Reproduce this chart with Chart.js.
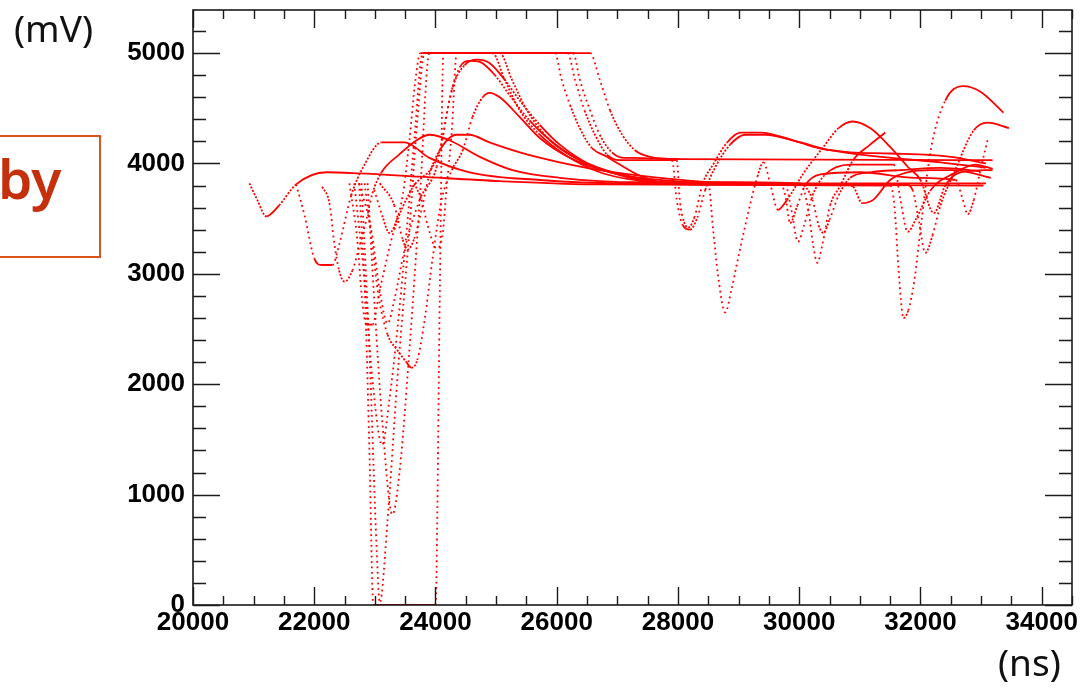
<!DOCTYPE html>
<html>
<head>
<meta charset="utf-8">
<script src="https://cdn.jsdelivr.net/npm/chart.js@4.4.1/dist/chart.umd.min.js"></script>
<style>
html, body { margin: 0; padding: 0; background: #fff; }
#wrap { position: relative; width: 1082px; height: 695px; overflow: hidden; }
canvas { position: absolute; left: 0; top: 0; }
.unit { position: absolute; font-family: "Noto Sans", sans-serif; font-size: 37px; line-height: 1; color: #111; }
#box { position: absolute; left: -10px; top: 135px; width: 107px; height: 119px; border: 2px solid #d9541e; }
#by { position: absolute; left: -2px; top: 150px; font: 600 55px/1 "Noto Sans", sans-serif; color: #c52f0c; }
</style>
</head>
<body>
<div id="wrap">
  <canvas id="c" width="1082" height="695"></canvas>
  <div class="unit" style="left:14px; top:9px;">(mV)</div>
  <div class="unit" style="left:998px; top:643px;">(ns)</div>
  <div id="box"></div>
  <div id="by">by</div>
</div>
<script>
// axis ticks
var xTicks = [20000, 22000, 24000, 26000, 28000, 30000, 32000, 34000];
var yTicks = [0, 1000, 2000, 3000, 4000, 5000];

// waveforms: [time ns, amplitude mV]
var trace1 = [[20930,3820],[21060,3670],[21210,3520],[21420,3620],[21700,3810],[22200,3920],[22740,3910],[23740,3880],[25060,3840],[26710,3810],[31500,3800],[31570,3620],[31640,3030],[31720,2600],[31800,2670],[31900,2940],[32000,3400],[32170,4120],[32410,4570],[32700,4700],[32990,4650],[33370,4460]];
var trace2 = [[21700,3810],[21840,3530],[22000,3140],[22120,3080],[22300,3080],[22410,3260],[22610,3710],[22830,3990],[23110,4190],[23490,4190],[23900,4050],[24560,3920],[25720,3850],[27040,3820],[28500,3820],[28580,3400],[28660,2990],[28780,2650],[28880,2850],[28980,3110],[29140,3510],[29310,3880],[29410,4010],[29520,3820],[29650,3580],[29800,3670],[30070,3910],[30400,4150],[30650,4320],[30880,4380],[31170,4320],[31500,4150],[31790,3970],[32000,3850],[32220,3550],[32410,3800],[32660,3920],[33190,3940]];
var trace3 = [[22130,3790],[22250,3640],[22330,3280],[22410,3030],[22500,2930],[22630,3030],[22740,3240],[22860,3490],[22960,3730],[23110,3920],[23400,4080],[23690,4210],[23900,4260],[24230,4210],[24730,4060],[25270,3940],[26050,3870],[27370,3830],[29690,3820],[29770,3710],[29850,3460],[29970,3620],[30100,3800],[30350,3900],[31010,3920],[31920,3870],[32580,3850],[32700,3670],[32780,3540],[32880,3670],[32990,3940],[33110,4220]];
var trace4 = [[23080,3820],[23320,3620],[23460,3310],[23540,3220],[23650,3320],[23770,3580],[23900,3900],[24070,4120],[24350,4260],[24560,4260],[24890,4190],[25390,4100],[26050,4010],[26710,3940],[27700,3870],[28700,3830],[30020,3820],[30150,3580],[30230,3260],[30300,3100],[30380,3260],[30510,3620],[30680,3800],[30890,4030],[31170,4170],[31420,4280]];
var trace5 = [[22740,3820],[22940,3400],[23080,2850],[23210,2550],[23320,2760],[23490,3220],[23740,3670],[24020,3970],[24230,4570],[24400,4870],[24560,4930],[24730,4920],[24980,4800],[25220,4620],[25550,4390],[25890,4210],[26380,4030],[27040,3900],[27700,3830],[28360,3810],[31750,3810],[31870,3760],[31970,3490],[32080,3190],[32200,3350],[32330,3620],[32550,3910],[32880,4300],[33110,4370],[33460,4320]];
var trace6 = [[22580,3820],[22710,3310],[22790,2760],[22860,2540],[22960,2540],[23080,2850],[23320,3400],[23600,3760],[24070,4120],[24270,4670],[24480,4890],[24680,4940],[24890,4910],[25140,4760],[25390,4570],[25720,4350],[26050,4170],[26550,3990],[27210,3870],[28030,3810],[30020,3810],[30220,3670],[30320,3440],[30400,3370],[30500,3490],[30650,3710],[30840,3870],[31170,3920],[31670,3940],[32330,3960],[32990,3930]];
var trace7 = [[22830,3820],[22950,3300],[23060,2800],[23210,2450],[23370,2310],[23520,2200],[23600,2150],[23700,2220],[23820,2580],[23950,3130],[24100,3670],[24270,3940],[24450,4120],[24610,4420],[24780,4600],[24890,4640],[25060,4600],[25390,4420],[25720,4230],[26220,4050],[26880,3920],[27700,3850],[28700,3820],[30760,3810],[30890,3790],[31040,3640],[31220,3670],[31500,3850],[31790,3920],[32170,3940],[32550,3940],[33160,3870]];
var trace8 = [[22740,3820],[22840,2760],[22910,1400],[22975,0],[24000,0],[24070,2760],[24130,5000],[26550,5000],[26710,4760],[26880,4480],[27080,4260],[27290,4120],[27540,4060],[28030,4040],[33190,4030]];
var trace9 = [[22660,3820],[22830,2940],[22960,2040],[23120,1450],[23240,1860],[23370,2490],[23540,3490],[23650,4210],[23790,5000],[26180,5000],[26300,4760],[26460,4480],[26630,4260],[26830,4080],[27040,4030],[27980,4030],[28030,3670],[28100,3470],[28170,3420],[28270,3510],[28410,3820],[28580,3990],[28810,4190],[29030,4280],[29360,4280],[29900,4210],[30300,4140],[30840,4100],[31500,4090],[32500,4060],[33080,4000]];
var trace10 = [[22880,3820],[22990,2760],[23120,1680],[23290,820],[23410,1220],[23570,2310],[23740,3670],[23900,5000],[26270,5000],[26380,4760],[26550,4480],[26710,4260],[26910,4100],[27120,4050],[27900,4030],[27980,3670],[28080,3440],[28200,3400],[28320,3510],[28450,3760],[28610,3960],[28860,4170],[29110,4260],[29440,4260],[30020,4190],[30510,4120],[31340,4060],[32330,4010],[33080,3960]];
var trace11 = [[22780,3820],[22910,2310],[23030,500],[23080,20],[23210,770],[23370,2040],[23570,3400],[23700,4390],[23820,5000],[25970,5000],[26080,4760],[26220,4530],[26380,4320],[26580,4140],[26830,4060],[27040,3990],[27370,3890],[27820,3820],[29770,3810],[29870,3580],[29980,3290],[30080,3440],[30220,3710],[30430,3900],[30840,3990],[31560,3990],[31670,3670],[31790,3380],[31920,3490],[32170,3760],[32550,3910],[32910,3990],[33190,3950]];
var trace12 = [[23650,3820],[23770,3670],[23870,3440],[24020,3230],[24120,3370],[24180,3760],[24270,4300],[24350,5000],[25060,5000],[25260,4760],[25510,4480],[25890,4210],[26380,4030],[27040,3900],[28030,3820],[33080,3820]];
var trace13 = [[22990,3760],[23120,3530],[23240,3370],[23360,3490],[23460,3710],[23570,4210],[23670,4760],[23750,5000],[24940,5000],[25140,4760],[25390,4480],[25720,4260],[26130,4080],[26710,3920],[27540,3830],[28360,3810],[33040,3800]];

var traces = [trace1, trace2, trace3, trace4, trace5, trace6, trace7, trace8, trace9, trace10, trace11, trace12, trace13];

// steep parts of a trace look dotted, like sparse samples
function dashFor(ctx) {
    var dx = Math.abs(ctx.p1.x - ctx.p0.x);
    var dy = Math.abs(ctx.p1.y - ctx.p0.y);
    if (dy > 2.5 * dx) return [1.8, 3.6];
    if (dy > 1.2 * dx) return [2, 1.6];
    return undefined;
}

var datasets = traces.map(function(t) {
    return {
        data: t.map(function(p) { return { x: p[0], y: p[1] }; }),
        borderColor: '#ff0000',
        borderWidth: 1.8,
        fill: false,
        pointRadius: 0,
        cubicInterpolationMode: 'monotone',
        segment: { borderDash: dashFor }
    };
});

// ROOT style frame with inner ticks on all four sides
var frameTicks = {
    id: 'frameTicks',
    afterDraw: function(chart) {
        var ctx = chart.ctx, a = chart.chartArea;
        var x = chart.scales.x, y = chart.scales.y;
        ctx.save();
        ctx.strokeStyle = '#1a1a1a';
        ctx.lineWidth = 1.6;
        ctx.strokeRect(a.left, a.top, a.right - a.left, a.bottom - a.top);
        ctx.lineWidth = 1.4;
        ctx.beginPath();
        for (var v = x.min; v <= x.max; v += 500) {
            var px = Math.round(x.getPixelForValue(v)) + 0.5;
            var len = (v % 2000 === 0) ? 18 : 9;
            ctx.moveTo(px, a.bottom); ctx.lineTo(px, a.bottom - len);
            ctx.moveTo(px, a.top); ctx.lineTo(px, a.top + len);
        }
        for (var w = 0; w <= y.max; w += 200) {
            var py = Math.round(y.getPixelForValue(w)) + 0.5;
            var l2 = (w % 1000 === 0) ? 27 : 13;
            ctx.moveTo(a.left, py); ctx.lineTo(a.left + l2, py);
            ctx.moveTo(a.right, py); ctx.lineTo(a.right - l2, py);
        }
        ctx.stroke();
        ctx.restore();
    }
};

var tickFont = { family: 'Liberation Sans', weight: 'bold', size: 26 };

new Chart(document.getElementById('c'), {
    type: 'line',
    data: { datasets: datasets },
    options: {
        responsive: false,
        animation: false,
        layout: { padding: { left: 0, right: 10, top: 10, bottom: 0 } },
        plugins: { legend: { display: false }, tooltip: { enabled: false } },
        scales: {
            x: {
                type: 'linear', min: 20000, max: 34500,
                afterFit: function(s) { s.height = 90; s.paddingLeft = 0; s.paddingRight = 0; },
                afterBuildTicks: function(s) { s.ticks = xTicks.map(function(v) { return { value: v }; }); },
                grid: { display: false, drawTicks: false },
                border: { display: false },
                ticks: { padding: 2, autoSkip: false, maxRotation: 0, color: '#000', font: tickFont,
                         callback: function(v) { return String(v); } }
            },
            y: {
                type: 'linear', min: 0, max: 5390,
                afterFit: function(s) { s.width = 193; s.paddingTop = 0; s.paddingBottom = 0; },
                afterBuildTicks: function(s) { s.ticks = yTicks.map(function(v) { return { value: v }; }); },
                grid: { display: false, drawTicks: false },
                border: { display: false },
                ticks: { padding: 8, color: '#000', font: tickFont,
                         callback: function(v) { return String(v); } }
            }
        }
    },
    plugins: [frameTicks]
});
</script>
</body>
</html>
